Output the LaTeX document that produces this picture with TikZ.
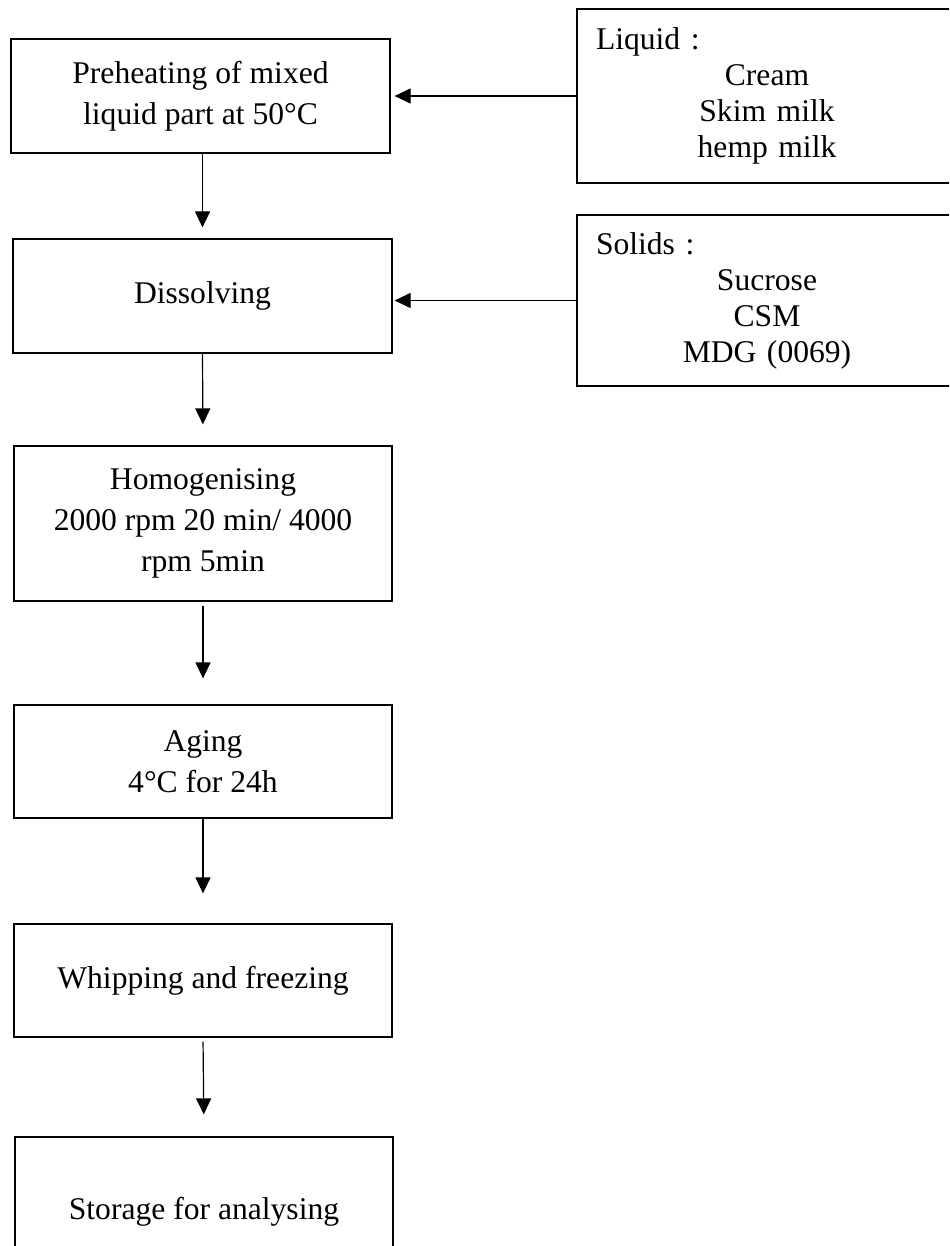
\documentclass[tikz,border=0pt]{standalone}
\usepackage{fontspec}
\setmainfont{Liberation Serif}
\usetikzlibrary{arrows.meta}

\tikzset{
  stepbox/.style={rectangle,draw,line width=0.6pt,align=center,inner sep=0pt,
    font=\fontsize{15.8pt}{20.5pt}\selectfont},
  inbox/.style={rectangle,draw,line width=0.6pt,align=center,inner xsep=9.5pt,
    text width=171pt,minimum width=190pt,
    font=\fontsize{15.8pt}{18pt}\selectfont},
  flow/.style={-{Triangle[width=7.5pt,length=8pt]},line width=0.6pt}
}

\begin{document}
\begin{tikzpicture}[x=0.5pt,y=-0.5pt]
\useasboundingbox (0,0) rectangle (949,1246);
\clip (0,0) rectangle (949,1246);

 % process steps
 \node at (200.5,96) [stepbox,minimum width=189.5pt,minimum height=57pt] (prep) {Preheating of mixed\\liquid part at 50°C};
 \node at (202.5,296) [stepbox,minimum width=189.5pt,minimum height=57pt] (diss) {Dissolving};
 \node at (203,523.5) [stepbox,minimum width=189pt,minimum height=77.5pt] (homog) {Homogenising\\2000 rpm 20 min/ 4000\\rpm 5min};
 \node at (203,761.5) [stepbox,minimum width=189pt,minimum height=56.5pt] (aging) {Aging\\4°C for 24h};
 \node at (203,980.5) [stepbox,minimum width=189pt,minimum height=56.5pt] (whip) {Whipping and freezing};
 \node at (204,1211.5) [stepbox,minimum width=189pt,minimum height=74.5pt] (store) {Storage for analysing};

 % ingredients
 \node at (767,96) [inbox,minimum height=87pt] (liquid) {\makebox[171pt][l]{Liquid :}\\Cream\\Skim milk\\hemp milk};
 \node at (767,300.5) [inbox,minimum height=85.5pt] (solids) {\makebox[171pt][l]{Solids :}\\Sucrose\\CSM\\MDG (0069)};

 \draw[flow,shorten >=5.5pt] (diss.north |- prep.south) -- (diss.north);
 \draw[flow,shorten >=10.5pt] (diss.south) -- (homog.north);
 \draw[flow,shorten <=2pt,shorten >=13pt] (homog.south) -- (aging.north);
 \draw[flow,shorten >=15pt] (aging.south) -- (whip.north);
 \draw[flow,shorten <=2pt,shorten >=11pt] (whip.south) -- (store.north);

 \draw[flow,shorten >=2pt] (liquid.west) -- (liquid.west -| prep.east);
 \draw[flow,shorten >=1pt] (solids.west) -- (solids.west -| diss.east);
\end{tikzpicture}
\end{document}
